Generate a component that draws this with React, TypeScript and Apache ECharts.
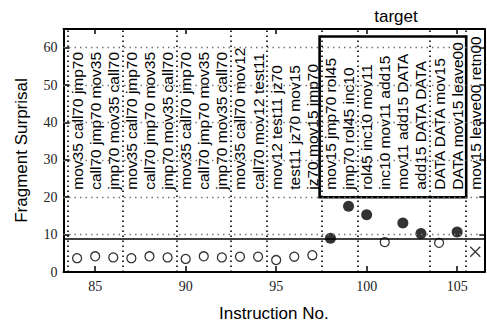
import React, { useEffect, useRef } from "react";
import * as echarts from "echarts";

const instructionNos = [84, 85, 86, 87, 88, 89, 90, 91, 92, 93, 94, 95, 96, 97, 98, 99, 100, 101, 102, 103, 104, 105, 106];
const fragments = [
  "mov35 call70 jmp70",
  "call70 jmp70 mov35",
  "jmp70 mov35 call70",
  "mov35 call70 jmp70",
  "call70 jmp70 mov35",
  "jmp70 mov35 call70",
  "mov35 call70 jmp70",
  "call70 jmp70 mov35",
  "jmp70 mov35 call70",
  "mov35 call70 mov12",
  "call70 mov12 test11",
  "mov12 test11 jz70",
  "test11 jz70 mov15",
  "jz70 mov15 jmp70",
  "mov15 jmp70 rol45",
  "jmp70 rol45 inc10",
  "rol45 inc10 mov11",
  "inc10 mov11 add15",
  "mov11 add15 DATA",
  "add15 DATA DATA",
  "DATA DATA mov15",
  "DATA mov15 leave00",
  "mov15 leave00 retn00",
];
const surprisal = [3.7, 4.2, 3.9, 3.7, 4.2, 3.9, 3.5, 4.2, 3.9, 4.1, 4.1, 3.2, 4.1, 4.5, 9.0, 17.6, 15.3, 8.0, 13.1, 10.3, 7.8, 10.7, 5.4];
const markerKinds = ["o", "o", "o", "o", "o", "o", "o", "o", "o", "o", "o", "o", "o", "o", "f", "f", "f", "o", "f", "f", "o", "f", "x"];
const groupBoundaries = [83.5, 86.5, 89.5, 92.5, 94.5, 97.5, 99.5, 103.5, 105.5];
const gridYs = [10, 20, 30, 40, 50, 60];
const threshold = 9;
const labelBase = 22;
const targetBox = { x0: 97.4, y0: 20, x1: 105.5, y1: 63 };
const xTicks = [85, 90, 95, 100, 105];
const yTicks = [0, 10, 20, 30, 40, 50, 60];

const pointsOf = (k: string) =>
  instructionNos.map((x, i) => [x, surprisal[i], markerKinds[i]]).filter((p) => p[2] === k).map((p) => [p[0], p[1]]);

export default function App() {
  const ref = useRef<HTMLDivElement>(null);
  useEffect(() => {
    if (!ref.current) return;
    const chart = echarts.init(ref.current, null, { renderer: "svg" });
    const serif = "Liberation Serif";
    const sans = "Liberation Sans";
    const axisLine = { show: true, onZero: false, lineStyle: { color: "#000", width: 2 } };
    const tickStyle = { color: "#000", width: 1.5 };
    chart.setOption({
      animation: false,
      backgroundColor: "#fff",
      title: {
        text: "target",
        left: 391,
        top: 3,
        textAlign: "center",
        textStyle: { fontFamily: sans, fontSize: 17, fontWeight: "normal", color: "#000" },
      },
      grid: { left: 63.5, right: 2.7, top: 29, bottom: 45 },
      xAxis: [
        {
          type: "value",
          min: 83.25,
          max: 106.5,
          position: "bottom",
          axisLine,
          axisTick: { show: true, inside: true, length: 6, customValues: xTicks, lineStyle: tickStyle },
          axisLabel: { customValues: xTicks, fontFamily: serif, fontSize: 14, color: "#222", margin: 7 },
          splitLine: { show: false },
          name: "Instruction No.",
          nameLocation: "middle",
          nameGap: 33,
          nameTextStyle: { fontFamily: sans, fontSize: 17, color: "#000" },
        },
        {
          type: "value",
          min: 83.25,
          max: 106.5,
          position: "top",
          axisLine,
          axisTick: { show: true, inside: true, length: 5, customValues: xTicks, lineStyle: tickStyle },
          axisLabel: { show: false },
          splitLine: { show: false },
        },
      ],
      yAxis: [
        {
          type: "value",
          min: 0,
          max: 65,
          position: "left",
          axisLine,
          axisTick: { show: true, inside: true, length: 6, customValues: yTicks, lineStyle: tickStyle },
          axisLabel: { customValues: yTicks, fontFamily: serif, fontSize: 14, color: "#222", margin: 6 },
          splitLine: { show: false },
          name: "Fragment Surprisal",
          nameLocation: "middle",
          nameGap: 34,
          nameTextStyle: { fontFamily: sans, fontSize: 17, color: "#000" },
        },
        {
          type: "value",
          min: 0,
          max: 65,
          position: "right",
          axisLine,
          axisTick: { show: true, inside: true, length: 5, customValues: yTicks, lineStyle: tickStyle },
          axisLabel: { show: false },
          splitLine: { show: false },
        },
      ],
      series: [
        {
          type: "scatter",
          data: [],
          silent: true,
          z: 1,
          markLine: {
            silent: true,
            symbol: "none",
            label: { show: false },
            animation: false,
            data: [
              ...gridYs.map((v) => ({ yAxis: v, lineStyle: { type: [1.5, 4], color: "#777", width: 1.3 } })),
              ...groupBoundaries.map((v) => ({ xAxis: v, lineStyle: { type: [1.5, 3.5], color: "#000", width: 1.6 } })),
              { yAxis: threshold, lineStyle: { type: "solid", color: "#000", width: 1.5 } },
            ],
          },
          markArea: {
            silent: true,
            label: { show: false },
            itemStyle: { color: "rgba(0,0,0,0)", borderColor: "#000", borderWidth: 2.6 },
            data: [[{ coord: [targetBox.x0, targetBox.y0] }, { coord: [targetBox.x1, targetBox.y1] }]],
          },
        },
        {
          type: "custom",
          silent: true,
          z: 3,
          data: instructionNos.map((x) => [x, labelBase]),
          encode: { x: 0, y: 1 },
          renderItem: (params: any, api: any) => {
            const p = api.coord([api.value(0), api.value(1)]);
            return {
              type: "text",
              x: p[0],
              y: p[1],
              rotation: Math.PI / 2,
              style: {
                text: fragments[params.dataIndex],
                fill: "#000",
                font: '15.5px "Liberation Sans"',
                align: "left",
                verticalAlign: "middle",
              },
            };
          },
        },
        {
          type: "scatter",
          z: 4,
          data: pointsOf("o"),
          symbol: "circle",
          symbolSize: 9,
          itemStyle: { color: "#fff", borderColor: "#000", borderWidth: 1.3 },
        },
        {
          type: "scatter",
          z: 4,
          data: pointsOf("f"),
          symbol: "circle",
          symbolSize: 11,
          itemStyle: { color: "#000" },
        },
        {
          type: "scatter",
          z: 4,
          data: pointsOf("x"),
          symbol: "path://M0 0L10 10M10 0L0 10",
          symbolSize: 10,
          itemStyle: { color: "none", borderColor: "#000", borderWidth: 1.3 },
        },
      ],
    });
    return () => chart.dispose();
  }, []);
  return <div ref={ref} style={{ position: "fixed", left: 0, top: 0, width: 487, height: 327 }} />;
}
